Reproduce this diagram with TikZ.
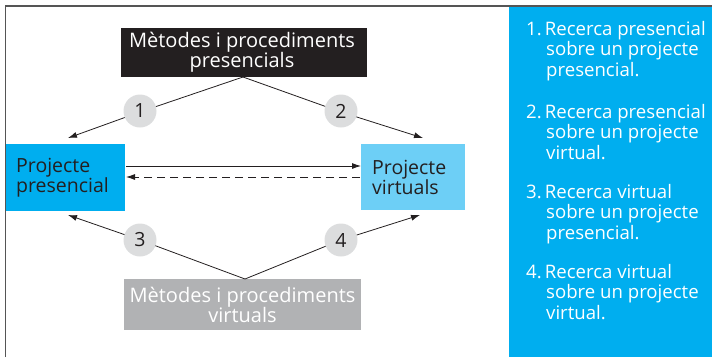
\documentclass[tikz,border=0pt]{standalone}
\usepackage{fontspec}
\setmainfont{Open Sans}
\usetikzlibrary{arrows.meta}
\definecolor{cyanA}{HTML}{00AEEF}
\definecolor{cyanB}{HTML}{6DCFF6}
\definecolor{circg}{HTML}{DCDDDE}
\definecolor{boxg}{HTML}{B1B2B4}
\definecolor{darkbox}{HTML}{231F20}
\definecolor{framec}{HTML}{555555}
\definecolor{linec}{HTML}{231F20}
\tikzset{
  every picture/.style={x=1pt,y=-1pt},
  methodbox/.style={inner sep=0pt, align=center, text=white, font=\fontsize{20}{20}\selectfont},
  projbox/.style={inner sep=0pt, align=left, text=linec, font=\fontsize{19.5}{20}\selectfont},
  num/.style={circle, fill=circg, minimum size=33pt, inner sep=0pt, font=\fontsize{19.5}{20}\selectfont, text=linec},
  conn/.style={draw=linec, line width=0.8pt, -{Latex[length=9pt,width=6pt]}},
  item/.style={anchor=north west, inner sep=0pt, align=left, text=white, font=\fontsize{18.6}{20.5}\selectfont},
}
\begin{document}
\begin{tikzpicture}
\useasboundingbox (0,0) rectangle (712,357);
\begin{scope}
\clip (0,0) rectangle (712,357);
% right panel
\fill[cyanA] (509,7) rectangle (712,357);
% frame
\draw[framec, line width=1.5pt] (5.5,357) -- (5.5,6) -- (712,6);
% boxes
\fill[darkbox] (121,28) rectangle (367,77);
\node[methodbox] (top) at (242,52.5) {Mètodes i procediments\\presencials};
\coordinate (topS) at (243,77);
\fill[boxg] (124,279) rectangle (361,330);
\node[methodbox] (bot) at (242.5,304.5) {Mètodes i procediments\\virtuals};
\coordinate (botN) at (245,279);
\fill[cyanA] (6,144) rectangle (125,211);
\node[projbox, anchor=west] (pp) at (16,178) {Projecte\\presencial};
\fill[cyanB] (361,144) rectangle (465,210);
\node[projbox, anchor=west] (pv) at (372,177) {Projecte\\virtuals};
% end coordinates
\coordinate (e1) at (68,138);
\coordinate (e2) at (423,138);
\coordinate (e3) at (68,215);
\coordinate (e4) at (420,215);
\coordinate (h1s) at (126,166);
\coordinate (h1e) at (361,166);
\coordinate (h2s) at (360,177);
\coordinate (h2e) at (126,177);
% connectors
\draw[conn] (topS) -- (140,112) -- (e1);
\draw[conn] (topS) -- (341,112) -- (e2);
\draw[conn] (botN) -- (140,240) -- (e3);
\draw[conn] (botN) -- (341,240) -- (e4);
\draw[conn] (h1s) -- (h1e);
\draw[conn, dash pattern=on 8pt off 5pt] (h2s) -- (h2e);
% circles
\node[num] (c1) at (140,111) {1};
\node[num] (c2) at (341,111) {2};
\node[num] (c3) at (140,240) {3};
\node[num] (c4) at (341,240) {4};
% list
\node[item] (l1) at (526,21) {1.\,Recerca presencial\\\hspace*{20pt}sobre un projecte\\\hspace*{20pt}presencial.};
\node[item] (l2) at (526,104) {2.\,Recerca presencial\\\hspace*{20pt}sobre un projecte\\\hspace*{20pt}virtual.};
\node[item] (l3) at (526,184) {3.\,Recerca virtual\\\hspace*{20pt}sobre un projecte\\\hspace*{20pt}presencial.};
\node[item] (l4) at (526,264) {4.\,Recerca virtual\\\hspace*{20pt}sobre un projecte\\\hspace*{20pt}virtual.};
\end{scope}
\end{tikzpicture}
\end{document}
